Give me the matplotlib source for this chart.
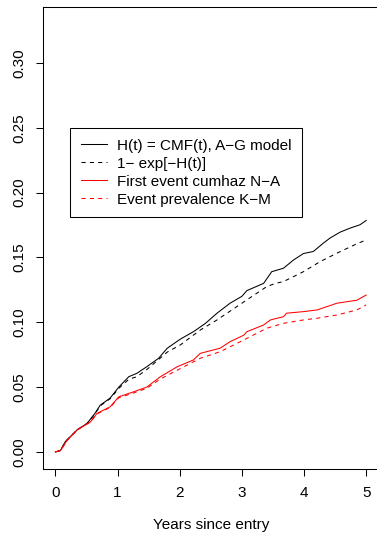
import matplotlib
matplotlib.use("Agg")
import matplotlib.pyplot as plt

plt.rcParams['font.family'] = ['Liberation Sans', 'DejaVu Sans']

# values
t_cmf = [0, 0.08, 0.16, 0.35, 0.51, 0.64, 0.72, 0.88, 1.02, 1.18, 1.31, 1.47, 1.66, 1.80,
         2.01, 2.22, 2.41, 2.60, 2.81, 3.00, 3.08, 3.35, 3.48, 3.67, 3.83, 3.99, 4.15,
         4.31, 4.42, 4.58, 4.74, 4.90, 5.0]
cmf = [0, 0.001, 0.008, 0.017, 0.022, 0.030, 0.036, 0.0415, 0.050, 0.058, 0.0606, 0.0657,
       0.0722, 0.080, 0.087, 0.0927, 0.099, 0.107, 0.1147, 0.120, 0.1244, 0.130, 0.139,
       0.1417, 0.148, 0.153, 0.1546, 0.161, 0.165, 0.1695, 0.1726, 0.1752, 0.1785]

t_expcmf = [0, 0.08, 0.16, 0.35, 0.51, 0.64, 0.72, 0.88, 1.02, 1.18, 1.31, 1.47, 1.62, 1.80,
            2.01, 2.33, 2.60, 3.00, 3.40, 3.54, 3.67, 3.99, 4.26, 4.53, 4.79, 5.0]
expcmf = [0, 0.001, 0.008, 0.017, 0.022, 0.0295, 0.0355, 0.041, 0.049, 0.056, 0.058, 0.0635,
          0.0696, 0.077, 0.0825, 0.094, 0.1018, 0.1147, 0.1275, 0.130, 0.1314, 0.139,
          0.1468, 0.1533, 0.1592, 0.1636]

t_na = [0, 0.08, 0.19, 0.35, 0.56, 0.67, 0.88, 1.02, 1.26, 1.47, 1.69, 1.96, 2.22, 2.33,
        2.65, 2.81, 3.03, 3.08, 3.35, 3.46, 3.67, 3.72, 3.99, 4.21, 4.53, 4.85, 5.0]
na = [0, 0.001, 0.009, 0.017, 0.023, 0.0297, 0.0348, 0.0425, 0.0464, 0.050, 0.058, 0.0657,
      0.0709, 0.076, 0.080, 0.085, 0.090, 0.0927, 0.0979, 0.1018, 0.1043, 0.107, 0.1082,
      0.1095, 0.1147, 0.117, 0.121]

t_km = [0, 0.08, 0.19, 0.35, 0.56, 0.67, 0.88, 1.02, 1.26, 1.47, 1.69, 1.96, 2.33, 2.65,
        3.03, 3.40, 3.67, 3.99, 4.21, 4.53, 4.85, 5.0]
km = [0, 0.001, 0.009, 0.017, 0.023, 0.0293, 0.0343, 0.0418, 0.0455, 0.049, 0.0563, 0.063,
      0.0722, 0.0773, 0.0863, 0.0954, 0.0992, 0.1018, 0.1031, 0.1056, 0.1095, 0.1134]

labels = ["H(t) = CMF(t), A\u2212G model", "1\u2212 exp[\u2212H(t)]",
          "First event cumhaz N\u2212A", "Event prevalence K\u2212M"]
x_ticks = [0, 1, 2, 3, 4, 5]
y_ticks = [0.00, 0.05, 0.10, 0.15, 0.20, 0.25, 0.30]

fs = 11
fig = plt.figure(figsize=(3.77, 5.40), dpi=100)
ax = fig.add_axes([43 / 377, 71 / 540, 335.6 / 377, 462 / 540])

lw = 0.75
ax.plot(t_cmf, cmf, color='black', lw=lw, label=labels[0])
ax.plot(t_expcmf, expcmf, color='black', lw=lw, dashes=(4, 4), label=labels[1])
ax.plot(t_na, na, color='red', lw=lw, label=labels[2])
ax.plot(t_km, km, color='red', lw=lw, dashes=(4, 4), label=labels[3])

ax.set_xlim(-0.2, 5.2)
ax.set_ylim(-0.0132, 0.3432)
ax.set_xticks(x_ticks)
ax.set_xticklabels([str(v) for v in x_ticks])
ax.set_yticks(y_ticks)
ax.set_yticklabels([f"{v:.2f}" for v in y_ticks], rotation=90, va='center')
ax.tick_params(direction='out', length=5, width=lw, labelsize=fs, pad=7)
for s in ax.spines.values():
    s.set_linewidth(lw)

ax.set_xlabel("Years since entry", fontsize=fs, labelpad=13)

leg = ax.legend(loc='upper left', bbox_to_anchor=(70 / 377, 1 - 128 / 540),
                bbox_transform=fig.transFigure, borderaxespad=0, fontsize=fs,
                fancybox=False, framealpha=1, edgecolor='black', handlelength=1.7,
                handletextpad=0.65, labelspacing=0.26, borderpad=0.7)
leg.get_frame().set_linewidth(lw)

fig.savefig("out.png", dpi=100)
